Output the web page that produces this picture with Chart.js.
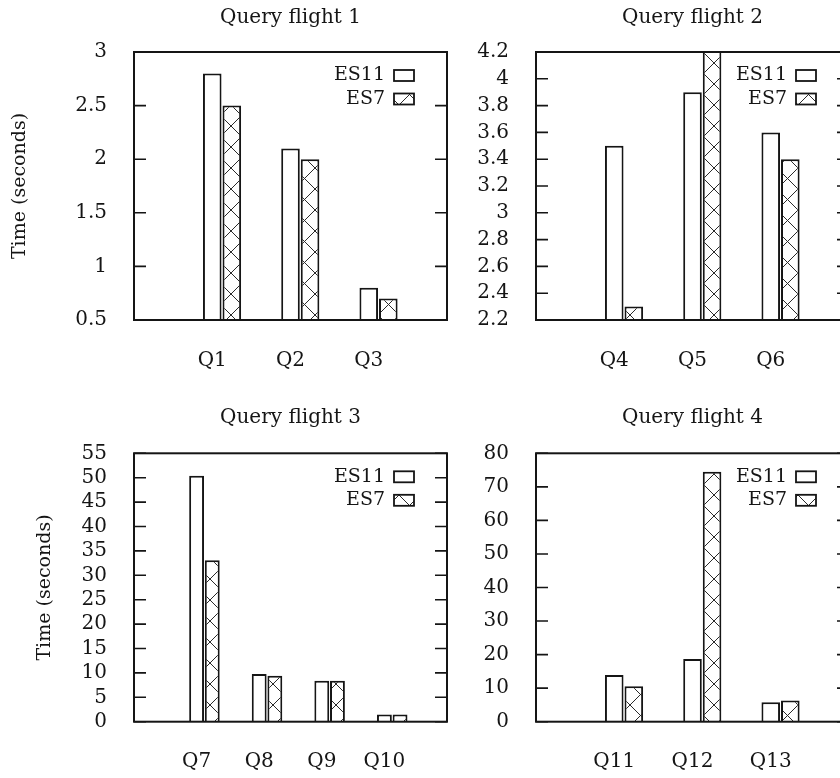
<!DOCTYPE html>
<html lang="en">
<head>
<meta charset="UTF-8">
<title>Query flights: ES11 vs ES7</title>
<script src="https://cdn.jsdelivr.net/npm/chart.js"></script>
<style>
  html, body { margin: 0; padding: 0; background: #fff; }
  #page { position: relative; width: 840px; height: 778px; overflow: hidden; }
  canvas { position: absolute; }
</style>
</head>
<body>
<div id="page">
  <canvas id="flight1" width="460" height="390" style="left:0;top:0"></canvas>
  <canvas id="flight2" width="440" height="390" style="left:420px;top:0"></canvas>
  <canvas id="flight3" width="460" height="388" style="left:0;top:390px"></canvas>
  <canvas id="flight4" width="440" height="388" style="left:420px;top:390px"></canvas>
</div>
<script>
// values, in seconds
const flight1Queries = ['Q1', 'Q2', 'Q3'];
const flight1ES11 = [2.8, 2.1, 0.8];
const flight1ES7 = [2.5, 2.0, 0.7];
const flight1Ticks = [0.5, 1, 1.5, 2, 2.5, 3];

const flight2Queries = ['Q4', 'Q5', 'Q6'];
const flight2ES11 = [3.5, 3.9, 3.6];
const flight2ES7 = [2.3, 4.3, 3.4]; // Q5 runs off the top of the plot
const flight2Ticks = [2.2, 2.4, 2.6, 2.8, 3, 3.2, 3.4, 3.6, 3.8, 4, 4.2];

const flight3Queries = ['Q7', 'Q8', 'Q9', 'Q10'];
const flight3ES11 = [50.4, 9.8, 8.4, 1.5];
const flight3ES7 = [33.1, 9.4, 8.4, 1.5];
const flight3Ticks = [0, 5, 10, 15, 20, 25, 30, 35, 40, 45, 50, 55];

const flight4Queries = ['Q11', 'Q12', 'Q13'];
const flight4ES11 = [13.9, 18.7, 5.8];
const flight4ES7 = [10.6, 74.5, 6.3];
const flight4Ticks = [0, 10, 20, 30, 40, 50, 60, 70, 80];

const ink = '#151515';
const serif = "'DejaVu Serif', serif";

Chart.defaults.font.family = serif;
Chart.defaults.color = ink;

// gnuplot style cross hatch
function crossHatch() {
    const c = document.createElement('canvas');
    c.width = 21;
    c.height = 21;
    const g = c.getContext('2d');
    g.fillStyle = '#fff';
    g.fillRect(0, 0, 21, 21);
    g.strokeStyle = '#2a2a2a';
    g.lineWidth = 1;
    g.beginPath();
    g.moveTo(0, 0); g.lineTo(21, 21);
    g.moveTo(21, 0); g.lineTo(0, 21);
    g.stroke();
    return g.createPattern(c, 'repeat');
}
const hatch = crossHatch();

// box around the plot + inward ticks on both sides
const framePlugin = {
    id: 'frame',
    afterDatasetsDraw(chart) {
        const { ctx, chartArea: a } = chart;
        const y = chart.scales.y;
        ctx.save();
        ctx.strokeStyle = ink;
        ctx.lineWidth = 1.6;
        ctx.beginPath();
        y.ticks.forEach(t => {
            const py = y.getPixelForValue(t.value);
            ctx.moveTo(a.left, py); ctx.lineTo(a.left + 12, py);
            ctx.moveTo(a.right, py); ctx.lineTo(a.right - 12, py);
        });
        ctx.stroke();
        ctx.lineWidth = 2;
        ctx.strokeRect(a.left, a.top, a.right - a.left, a.bottom - a.top);
        ctx.restore();
    }
};

// key in the top right corner, text left of the sample box
const keyPlugin = {
    id: 'key',
    afterDraw(chart) {
        const { ctx, chartArea: a } = chart;
        ctx.save();
        ctx.font = '19px ' + serif;
        ctx.textAlign = 'right';
        ctx.textBaseline = 'middle';
        chart.data.datasets.forEach((ds, i) => {
            const cy = a.top + 23.5 + i * 23.5;
            const bx = a.right - 53;
            ctx.fillStyle = ds.backgroundColor;
            ctx.fillRect(bx, cy - 5.5, 20, 11);
            ctx.strokeStyle = ink;
            ctx.lineWidth = 1.8;
            ctx.strokeRect(bx, cy - 5.5, 20, 11);
            ctx.fillStyle = ink;
            ctx.fillText(ds.label, bx - 9, cy);
        });
        ctx.restore();
    }
};

function makeChart(id, title, queries, es11, es7, yTicks, opt) {
    const ctx = document.getElementById(id).getContext('2d');
    return new Chart(ctx, {
        type: 'bar',
        data: {
            datasets: [{
                label: 'ES11',
                data: es11.map((v, i) => ({ x: i, y: v })),
                backgroundColor: '#fff'
            }, {
                label: 'ES7',
                data: es7.map((v, i) => ({ x: i + 0.25, y: v })),
                backgroundColor: hatch
            }]
        },
        options: {
            responsive: false,
            animation: false,
            layout: { padding: { left: 0, right: opt.padRight, top: 0, bottom: 0 } },
            datasets: {
                bar: {
                    grouped: false,
                    categoryPercentage: 1,
                    barPercentage: 0.95,
                    borderColor: ink,
                    borderWidth: 2,
                    clip: 0
                }
            },
            plugins: {
                legend: { display: false },
                tooltip: { enabled: false },
                title: {
                    display: true,
                    text: title,
                    fullSize: false,
                    color: ink,
                    font: { size: 20, weight: 'normal', family: serif },
                    padding: { top: opt.titleTop, bottom: opt.titleBottom }
                }
            },
            scales: {
                x: {
                    type: 'linear',
                    min: -1,
                    max: queries.length,
                    offset: false,
                    grid: { display: false, drawTicks: false },
                    border: { display: false },
                    afterBuildTicks: s => { s.ticks = queries.map((q, i) => ({ value: i })); },
                    afterFit: s => { s.height = opt.xHeight; },
                    ticks: {
                        autoSkip: false,
                        maxRotation: 0,
                        padding: opt.xPad,
                        font: { size: 20 },
                        callback: (v, i) => queries[i]
                    }
                },
                y: {
                    min: yTicks[0],
                    max: yTicks[yTicks.length - 1],
                    beginAtZero: false,
                    grid: { display: false, drawTicks: false },
                    border: { display: false },
                    afterBuildTicks: s => { s.ticks = yTicks.map(v => ({ value: v })); },
                    afterFit: s => { s.width = opt.yWidth; },
                    ticks: {
                        autoSkip: false,
                        padding: 27,
                        font: { size: 20 },
                        callback: v => String(+v.toFixed(1))
                    },
                    title: {
                        display: !!opt.yTitle,
                        text: opt.yTitle || '',
                        font: { size: 19 },
                        padding: { top: opt.yTitlePad || 0, bottom: 0 }
                    }
                }
            }
        },
        plugins: [framePlugin, keyPlugin]
    });
}

makeChart('flight1', 'Query flight 1', flight1Queries, flight1ES11, flight1ES7, flight1Ticks,
    { padRight: 13, yWidth: 134, xHeight: 70, xPad: 29, titleTop: 6, titleBottom: 22, yTitle: 'Time (seconds)', yTitlePad: 9 });
makeChart('flight2', 'Query flight 2', flight2Queries, flight2ES11, flight2ES7, flight2Ticks,
    { padRight: 11, yWidth: 116, xHeight: 70, xPad: 29, titleTop: 6, titleBottom: 22 });
makeChart('flight3', 'Query flight 3', flight3Queries, flight3ES11, flight3ES7, flight3Ticks,
    { padRight: 13, yWidth: 134, xHeight: 56.3, xPad: 28, titleTop: 16, titleBottom: 23.3, yTitle: 'Time (seconds)', yTitlePad: 34 });
makeChart('flight4', 'Query flight 4', flight4Queries, flight4ES11, flight4ES7, flight4Ticks,
    { padRight: 11, yWidth: 116, xHeight: 56.3, xPad: 28, titleTop: 16, titleBottom: 23.3 });
</script>
</body>
</html>
